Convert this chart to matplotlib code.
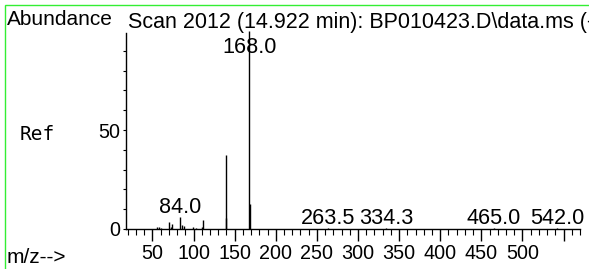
import matplotlib
matplotlib.use("Agg")
import matplotlib.pyplot as plt
import numpy as np
from matplotlib.patches import Rectangle

# --- Data ---
MZ = [55, 58, 60, 70, 72, 74, 84, 86, 88, 99, 103, 110, 112,
      139, 140, 168, 169, 263.5, 334.3, 465.0, 542.0]
ABUNDANCE = [0.8, 0.8, 0.6, 3.5, 1.0, 2.5, 5.9, 2.0, 1.5, 0.8, 0.6, 1.0, 4.5,
             37.4, 5.6, 100.0, 12.6, 0.4, 0.4, 0.3, 0.3]
LABEL_MZ = [84.0, 168.0, 263.5, 334.3, 465.0, 542.0]
X_MAJOR = list(range(50, 551, 50))
X_LABELS = [str(v) for v in range(50, 501, 50)] + [""]
TITLE = "Scan 2012 (14.922 min): BP010423.D\\data.ms (-2005) (-)"
# ----------------------------------------------

W, H = 589, 269
FONT = "Liberation Sans"

fig = plt.figure(figsize=(W / 100, H / 100), dpi=100)

# green frame (clipped on the right / bottom like the reference crop)
fig.patches.append(Rectangle((5 / W, -0.2), 1.2, (H - 5) / H + 0.2,
                             transform=fig.transFigure, fill=False,
                             edgecolor="#33ee33", linewidth=1.0))

ax = fig.add_axes([126 / W, (H - 229) / H, (580 - 126) / W, (229 - 33) / H])
ax.set_xlim(17.8, 567.5)
ax.set_ylim(0, 99)

ax.vlines(MZ, 0, ABUNDANCE, color="black", linewidth=1.0, clip_on=False)

# peak labels
for m in LABEL_MZ:
    h = ABUNDANCE[MZ.index(m)]
    ax.text(m, min(h + 2.0, 89.0), f"{m:.1f}", ha="center", va="baseline",
            fontsize=15.6, family=FONT, clip_on=False)

for side in ("top", "right"):
    ax.spines[side].set_visible(False)
ax.spines["left"].set_linewidth(1.0)
ax.spines["bottom"].set_linewidth(1.0)

ax.set_xticks(X_MAJOR)
ax.set_xticklabels(X_LABELS)
ax.set_xticks(np.arange(20, 571, 10), minor=True)
ax.tick_params(axis="x", which="major", length=8.5, width=1, pad=2,
               labelsize=14.2)
ax.tick_params(axis="x", which="minor", length=4, width=0.8)

ax.set_yticks([0, 50])
ax.set_yticks(np.arange(10, 100, 10), minor=True)
ax.tick_params(axis="y", which="both", length=2.5, width=0.8, pad=2,
               labelsize=14.2)
for lbl in ax.get_xticklabels() + ax.get_yticklabels():
    lbl.set_family(FONT)

fig.text(7 / W, 1 - 25 / H, "Abundance", fontsize=15, family=FONT,
         ha="left", va="baseline")
fig.text(128 / W, 1 - 28 / H, TITLE, fontsize=15.5, family=FONT,
         ha="left", va="baseline")
fig.text(20 / W, 1 - 140 / H, "Ref", fontsize=14, family="DejaVu Sans Mono",
         ha="left", va="baseline")
fig.text(7 / W, 1 - 263 / H, "m/z-->", fontsize=15, family=FONT,
         ha="left", va="baseline")

fig.savefig("out.png", dpi=100)
